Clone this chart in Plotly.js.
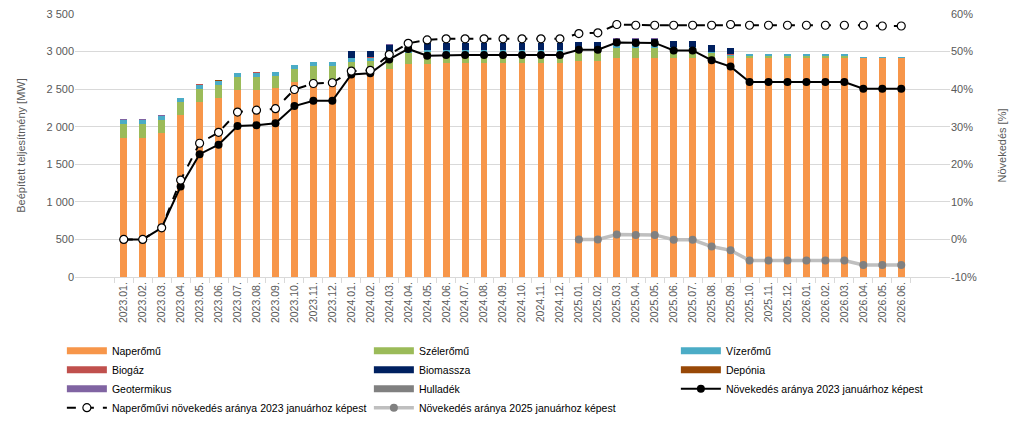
<!DOCTYPE html>
<html>
<head>
<meta charset="utf-8">
<script src="https://cdn.plot.ly/plotly-3.0.1.min.js"></script>
<style>
  html, body { margin: 0; padding: 0; background: #fff; }
  #chart { width: 1024px; height: 434px; }
</style>
</head>
<body>
<div id="chart"></div>
<script>
// honapok (x tengely)
var honapok = [
  "2023.01.","2023.02.","2023.03.","2023.04.","2023.05.","2023.06.","2023.07.","2023.08.","2023.09.","2023.10.","2023.11.","2023.12.",
  "2024.01.","2024.02.","2024.03.","2024.04.","2024.05.","2024.06.","2024.07.","2024.08.","2024.09.","2024.10.","2024.11.","2024.12.",
  "2025.01.","2025.02.","2025.03.","2025.04.","2025.05.","2025.06.","2025.07.","2025.08.","2025.09.","2025.10.","2025.11.","2025.12.",
  "2026.01.","2026.02.","2026.03.","2026.04.","2026.05.","2026.06."
];

// beepitett teljesitmeny [MW], forrasonkent
var naperomu = [1850,1850,1915,2155,2330,2385,2487,2491,2509,2595,2620,2622,
                2680,2683,2765,2830,2833,2850,2850,2850,2850,2850,2850,2850,
                2875,2877,2908,2908,2908,2908,2908,2912,2915,2915,2915,2915,
                2915,2915,2915,2912,2912,2912];
var szeleromu = [185,185,177,168,177,173,177,173,164,172,186,186,
                 186,186,212,155,155,137,137,137,137,137,137,137,
                 135,132,133,133,133,125,125,70,30,27,27,27,
                 27,27,27,0,0,0];
var vizeromu = [55,55,49,58,53,53,49,57,53,50,53,53,
                49,50,31,40,35,35,35,35,35,35,35,35,
                25,25,44,44,44,26,26,15,15,20,20,20,
                20,20,20,15,15,15];
var biogaz = [3,3,4,3,3,4,4,5,4,3,3,3,
              5,6,5,4,4,4,4,4,4,4,4,4,
              4,4,4,4,4,4,4,4,4,0,0,0,
              0,0,0,0,0,0];
var biomassza = [0,0,0,0,0,0,0,0,0,0,0,0,
                 82,80,80,120,88,88,88,88,88,88,88,88,
                 90,90,84,84,84,80,80,86,86,0,0,0,
                 0,0,0,0,0,0];
var deponia = [1,1,1,1,1,1,1,1,1,1,1,1,
               1,1,1,1,1,1,1,1,1,1,1,1,
               0,0,0,0,0,0,0,0,0,0,0,0,
               0,0,0,0,0,0];
var geotermikus = [3,3,4,2,2,3,3,4,3,2,2,2,
                   2,2,2,2,2,2,2,2,2,2,2,2,
                   2,2,2,2,2,2,2,2,2,0,0,0,
                   0,0,0,0,0,0];
var hulladek = [0,0,0,0,0,0,0,0,0,0,0,0,
                0,0,0,0,0,0,0,0,0,0,0,0,
                0,0,0,0,0,0,0,0,0,8,8,8,
                8,8,8,3,3,3];

// novekedes [%]
var novekedes2023 = [0,0,3.1,14.1,22.7,25.2,30.2,30.4,30.9,35.5,36.9,36.9,
                     43.9,44.2,47.9,50.7,48.9,49.1,49.1,49.1,49.1,49.1,49.1,49.1,
                     50.5,50.5,52.4,52.3,52.3,50.3,50.3,47.7,46.0,41.9,41.9,41.9,
                     41.9,41.9,41.9,40.1,40.1,40.1];
var napNovekedes2023 = [0,0,3.1,15.8,25.6,28.5,33.9,34.4,34.8,39.9,41.5,41.7,
                        44.8,45.0,49.2,52.2,53.1,53.4,53.4,53.4,53.4,53.4,53.4,53.4,
                        54.8,55.0,57.2,57.0,57.0,57.0,57.0,57.0,57.2,57.0,57.0,57.0,
                        57.0,57.0,57.0,57.0,56.8,56.8];
var novekedes2025 = [null,null,null,null,null,null,null,null,null,null,null,null,
                     null,null,null,null,null,null,null,null,null,null,null,null,
                     0,0,1.3,1.2,1.2,-0.1,-0.1,-1.9,-2.9,-5.6,-5.6,-5.6,
                     -5.6,-5.6,-5.6,-6.8,-6.8,-6.8];

var y2Ertekek = [-10,0,10,20,30,40,50,60];
var y2Feliratok = ["-10%","0%","10%","20%","30%","40%","50%","60%"];

var forrasok = [
  ["Naperőmű", naperomu, "#F7964A"],
  ["Szélerőmű", szeleromu, "#9BBB59"],
  ["Vízerőmű", vizeromu, "#4BACC6"],
  ["Biogáz", biogaz, "#C0504D"],
  ["Biomassza", biomassza, "#002060"],
  ["Depónia", deponia, "#984807"],
  ["Geotermikus", geotermikus, "#8064A2"],
  ["Hulladék", hulladek, "#808080"]
];

var data = [];
// oszlopok (jelmagyarazat nelkul)
forrasok.forEach(function(f){
  data.push({x: honapok, y: f[1], name: f[0], type: 'bar',
             marker: {color: f[2]}, showlegend: false, hoverinfo: 'y+name'});
});
// jelmagyarazat: szeles teglalap, mint az Excelben
forrasok.forEach(function(f){
  data.push({x: [null], y: [null], name: f[0], type: 'scatter', mode: 'lines',
             line: {color: f[2], width: 7}, hoverinfo: 'skip'});
});
data.push(
  {x: honapok, y: novekedes2023, name: "Növekedés aránya 2023 januárhoz képest",
   yaxis: 'y2', mode: 'lines+markers', line: {color: '#000', width: 2},
   marker: {color: '#000', size: 8}},
  {x: honapok, y: napNovekedes2023, name: "Naperőművi növekedés aránya 2023 januárhoz képest",
   yaxis: 'y2', mode: 'lines+markers', line: {color: '#000', width: 2, dash: 'dash'},
   marker: {color: '#fff', size: 8, line: {color: '#000', width: 1.2}}},
  {x: honapok, y: novekedes2025, name: "Növekedés aránya 2025 januárhoz képest",
   yaxis: 'y2', mode: 'lines+markers', line: {color: '#BFBFBF', width: 3.5},
   marker: {color: '#808080', size: 8}}
);

var layout = {
  width: 1024,
  height: 434,
  barmode: 'stack',
  bargap: 0.64,
  separators: ', ',
  paper_bgcolor: '#fff',
  plot_bgcolor: '#fff',
  font: {family: 'Liberation Sans, Arial, sans-serif', size: 11, color: '#595959'},
  margin: {l: 75, r: 74, t: 14, b: 152},
  showlegend: true,
  legend: {
    orientation: 'h', x: -0.015, xanchor: 'left', y: -0.225, yanchor: 'top',
    entrywidth: 252, entrywidthmode: 'pixels', traceorder: 'normal',
    font: {family: 'Liberation Sans, sans-serif', size: 10.5, color: '#000'},
    tracegroupgap: 0, itemwidth: 40
  },
  xaxis: {
    type: 'category',
    tickangle: -90,
    tickfont: {size: 10.5, color: '#595959'},
    showline: true, linecolor: '#D9D9D9', linewidth: 1,
    ticks: 'outside', tickson: 'boundaries', ticklen: 5, tickcolor: '#D9D9D9',
    showgrid: false
  },
  yaxis: {
    range: [0, 3500], dtick: 500, tickformat: ',d',
    title: {text: 'Beépített teljesítmény [MW]', font: {size: 11, color: '#595959'}, standoff: 18},
    gridcolor: '#D9D9D9', zeroline: false, tickfont: {size: 11, color: '#595959'}
  },
  yaxis2: {
    overlaying: 'y', side: 'right', range: [-10, 60],
    tickvals: y2Ertekek, ticktext: y2Feliratok,
    title: {text: 'Növekedés [%]', font: {size: 11, color: '#595959'}, standoff: 22},
    showgrid: false, zeroline: false, tickfont: {size: 11, color: '#595959'}
  }
};

Plotly.newPlot('chart', data, layout, {displayModeBar: false, staticPlot: true});
</script>
</body>
</html>
